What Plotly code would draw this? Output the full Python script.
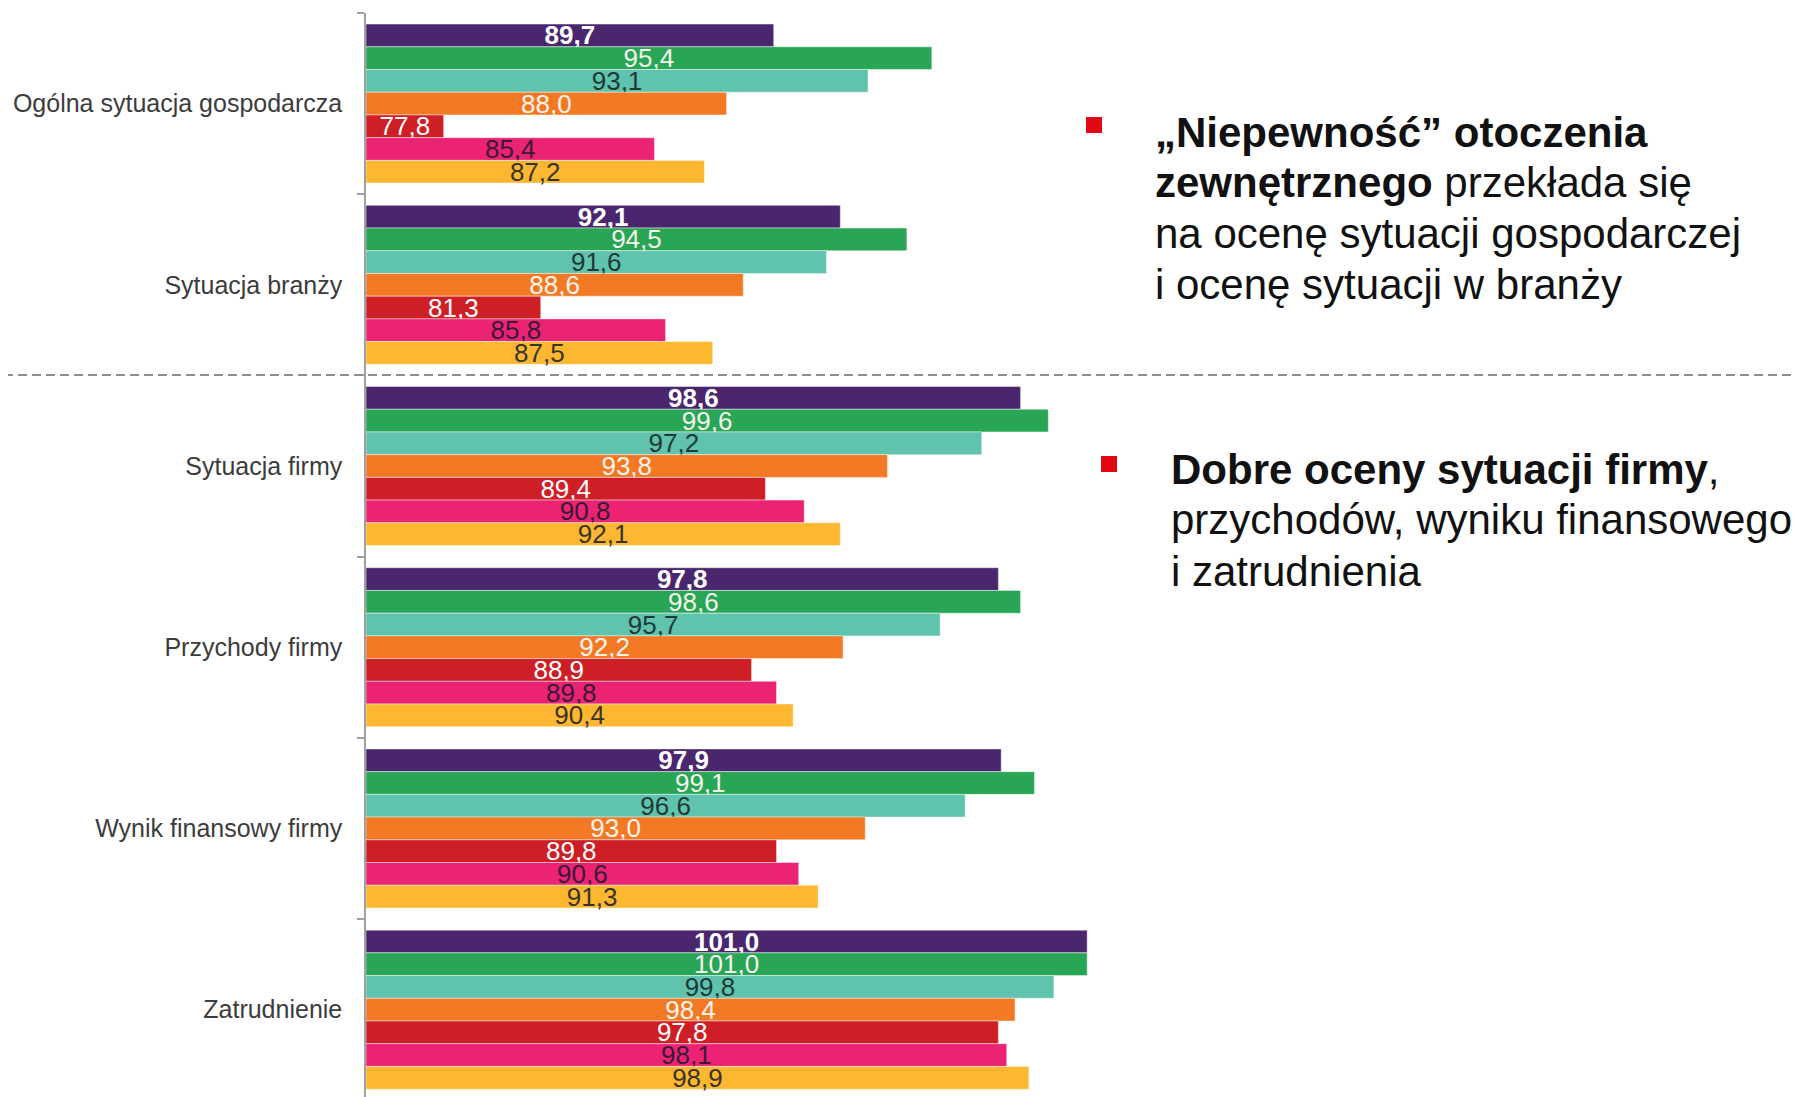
import plotly.graph_objects as go

categories = ["Ogólna sytuacja gospodarcza", "Sytuacja branży", "Sytuacja firmy",
              "Przychody firmy", "Wynik finansowy firmy", "Zatrudnienie"]

s1 = [89.7, 92.1, 98.6, 97.8, 97.9, 101.0]
s2 = [95.4, 94.5, 99.6, 98.6, 99.1, 101.0]
s3 = [93.1, 91.6, 97.2, 95.7, 96.6, 99.8]
s4 = [88.0, 88.6, 93.8, 92.2, 93.0, 98.4]
s5 = [77.8, 81.3, 89.4, 88.9, 89.8, 97.8]
s6 = [85.4, 85.8, 90.8, 89.8, 90.6, 98.1]
s7 = [87.2, 87.5, 92.1, 90.4, 91.3, 98.9]

series = [s1, s2, s3, s4, s5, s6, s7]
colors = ["#4A266F", "#28A555", "#5FC3AD", "#F47924", "#CF1F26", "#EC2373", "#FDB731"]
text_colors = ["#FFFFFF", "#F4F6EC", "#1E3A38", "#FFF4EC", "#FFFFFF", "#3A1838", "#3A3424"]
text_weights = ["bold", "normal", "normal", "normal", "normal", "normal", "normal"]

BASE = 75.0
X_MAX = 126.7

# page body has an 8px margin; the figure is sized/offset to compensate
OFF = 8
W, H = 1805 - OFF, 1097 - OFF
ML, MR, MT, MB = 366 - OFF, 5, 13 - OFF, 0
PW = W - ML - MR
PH = H - MT - MB

fig = go.Figure()
for i, vals in enumerate(series):
    fig.add_trace(go.Bar(
        y=categories,
        x=[v - BASE for v in vals],
        base=BASE,
        orientation="h",
        name=f"Seria {i+1}",
        marker=dict(color=colors[i], line=dict(color="rgba(255,255,255,0.55)", width=0.8)),
        text=[f"{v:.1f}".replace(".", ",") for v in vals],
        textposition="inside",
        insidetextanchor="middle",
        constraintext="none",
        textangle=0,
        textfont=dict(family="Liberation Sans", size=26, color=text_colors[i], weight=text_weights[i]),
        hovertemplate="%{y}: %{text}<extra></extra>",
    ))


def px_x(p):
    return (p - OFF - ML) / PW


def px_y(p):
    return 1 - (p - OFF - MT) / PH


shapes = [
    dict(type="line", xref="paper", yref="paper",
         x0=px_x(4), x1=px_x(1792), y0=px_y(375), y1=px_y(375),
         line=dict(color="#8E8E8E", width=2, dash="9px,5px")),
    dict(type="rect", xref="paper", yref="paper",
         x0=px_x(1086), x1=px_x(1102), y0=px_y(117), y1=px_y(133),
         fillcolor="#E10A14", line=dict(width=0)),
    dict(type="rect", xref="paper", yref="paper",
         x0=px_x(1101), x1=px_x(1117), y0=px_y(456), y1=px_y(472),
         fillcolor="#E10A14", line=dict(width=0)),
]

lines1 = ["<b>„Niepewność” otoczenia</b>",
          "<b>zewnętrznego</b> przekłada się",
          "na ocenę sytuacji gospodarczej",
          "i ocenę sytuacji w branży"]
ys1 = [132, 183, 233, 284]
lines2 = ["<b>Dobre oceny sytuacji firmy</b>,",
          "przychodów, wyniku finansowego",
          "i zatrudnienia"]
ys2 = [469, 520, 571]

annotations = []
for t, yy in zip(lines1, ys1):
    annotations.append(dict(text=t, xref="paper", yref="paper", x=px_x(1153), y=px_y(yy),
                            xanchor="left", yanchor="middle", showarrow=False,
                            font=dict(family="Liberation Sans", size=42, color="#111111")))
for t, yy in zip(lines2, ys2):
    annotations.append(dict(text=t, xref="paper", yref="paper", x=px_x(1169), y=px_y(yy),
                            xanchor="left", yanchor="middle", showarrow=False,
                            font=dict(family="Liberation Sans", size=42, color="#111111")))

fig.update_layout(
    width=W, height=H,
    margin=dict(l=ML, r=MR, t=MT, b=MB, pad=0),
    paper_bgcolor="white", plot_bgcolor="white",
    barmode="group", bargap=0.1225, bargroupgap=0,
    showlegend=False,
    shapes=shapes,
    annotations=annotations,
    xaxis=dict(range=[BASE, X_MAX], visible=False, showgrid=False, zeroline=False, fixedrange=True),
    yaxis=dict(type="category", categoryorder="array", categoryarray=categories,
               range=[5.482, -0.5], showline=True, linecolor="#A0A0A0", linewidth=1.5,
               ticks="outside", tickson="boundaries", ticklen=7, tickcolor="#A0A0A0", tickwidth=1.5,
               ticklabelstandoff=17, showgrid=False, zeroline=False,
               tickfont=dict(family="Liberation Sans", size=25, color="#3C3C3C")),
)

fig.write_html("out.html")
